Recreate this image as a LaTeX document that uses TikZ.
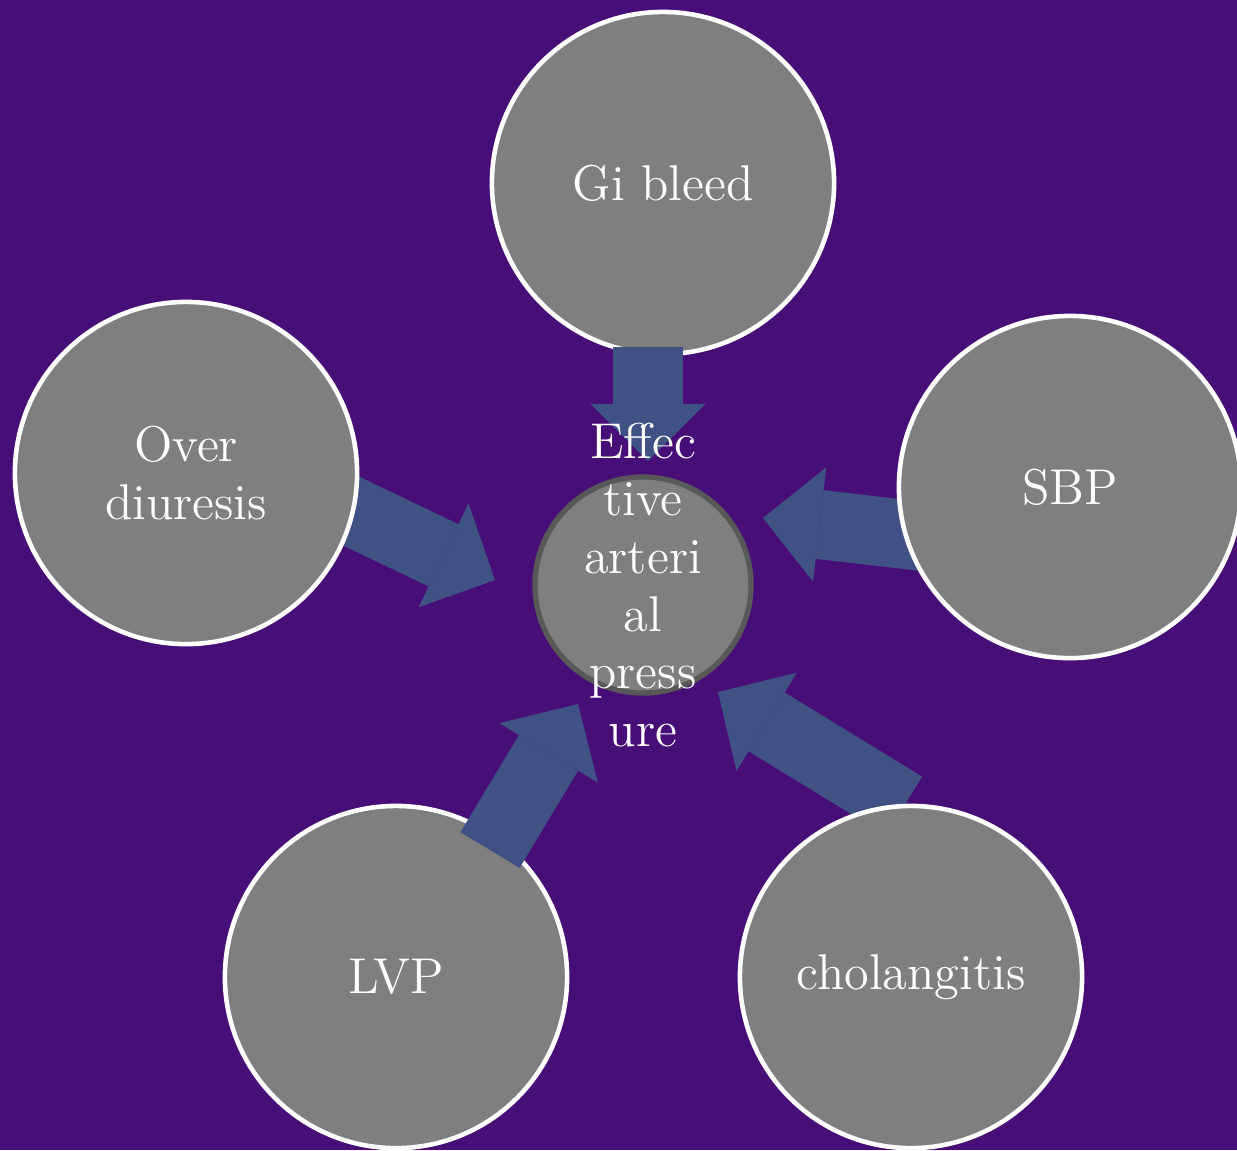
\documentclass[tikz,border=0pt]{standalone}
\usetikzlibrary{arrows.meta}
\definecolor{bgpurple}{RGB}{72,14,120}
\definecolor{flowblue}{RGB}{63,82,131}
\definecolor{bubblegray}{RGB}{127,127,127}
\definecolor{rimgray}{RGB}{88,88,88}

\begin{document}
\begin{tikzpicture}[x=0.01cm,y=-0.01cm]
\tikzstyle{every node}=[font=\fontsize{14.3}{16.4}\selectfont, text=white, align=center]
\tikzstyle{cause}=[circle, fill=bubblegray, draw=white, line width=1.3pt, minimum size=3.42cm, inner sep=0pt]
\tikzstyle{effect}=[circle, fill=bubblegray, draw=rimgray, line width=1.5pt, minimum size=2.16cm, inner sep=0pt]
\tikzstyle{flow}=[color=flowblue, line width=6.9mm, -{Triangle[length=5.7mm, width=11.5mm, line width=0pt]}]

\fill[bgpurple] (0,0) rectangle (1237,1150);
\useasboundingbox (0,0) rectangle (1237,1150);

% ends of the block arrows
\coordinate (gitail) at (648,347);
\coordinate (gitip) at (648,461);
\coordinate (odtail) at (299,486);
\coordinate (odtip) at (495,580);
\coordinate (sbptail) at (980,543);
\coordinate (sbptip) at (763,518);
\coordinate (lvptail) at (490,850);
\coordinate (lvptip) at (578,704);
\coordinate (chtail) at (904,806);
\coordinate (chtip) at (718,692);

% arrows behind the circles
\draw[flow] (odtail) -- (odtip);
\draw[flow] (sbptail) -- (sbptip);
\draw[flow] (chtail) -- (chtip);

\node[cause] (gi) at (663,183) {Gi bleed};
\node[cause] (od) at (186,473) {Over\\diuresis};
\node[cause] (sbp) at (1070,487) {SBP};
\node[cause] (lvp) at (396,977) {LVP};
\node[cause] (ch) at (911,977) {cholangitis};

% arrows in front
\draw[flow] (gitail) -- (gitip);
\draw[flow] (lvptail) -- (lvptip);

\node[effect, label={center:{Effec\\tive\\arteri\\al\\press\\ure}}] (eap) at (643,585) {};
\end{tikzpicture}
\end{document}
